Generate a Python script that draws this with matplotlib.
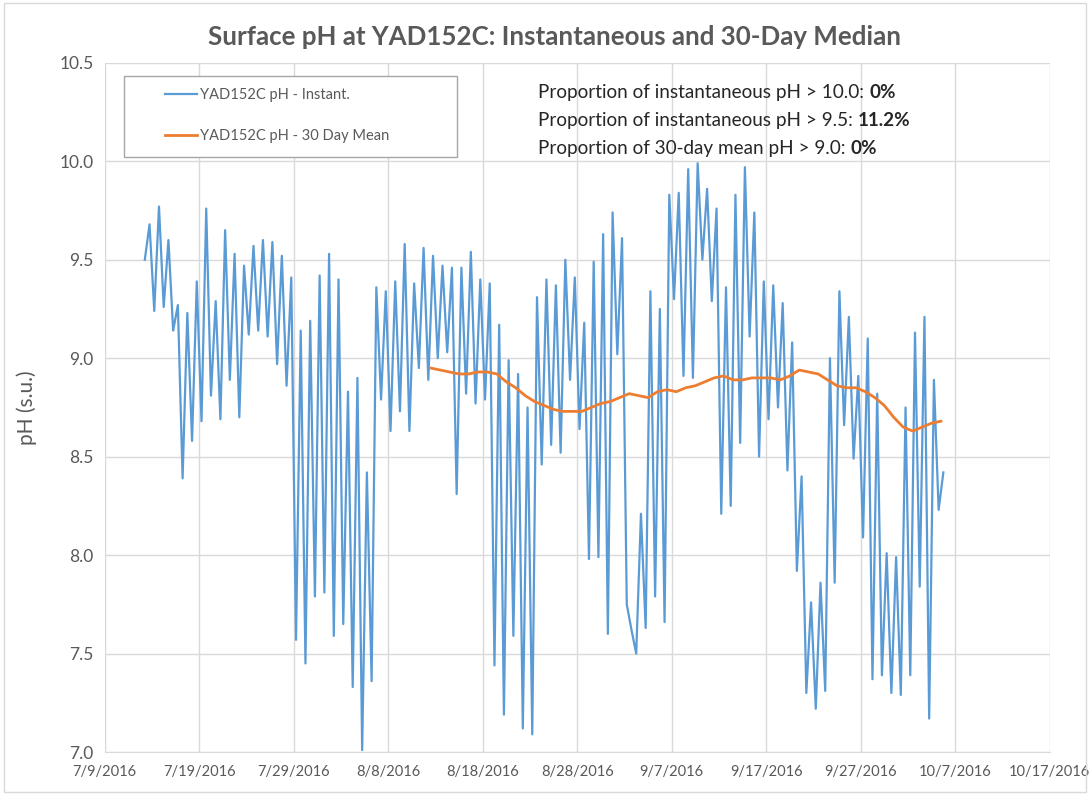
import matplotlib
matplotlib.use("Agg")
import matplotlib.pyplot as plt
import matplotlib.dates as mdates
from matplotlib.ticker import FuncFormatter, MultipleLocator, FixedLocator
from matplotlib.patches import Rectangle
import pandas as pd

# ---------------- data ----------------
inst_start = "2016-07-13 06:00"   # alternating morning low / evening high, 12 h apart
inst_ph = [
    9.50, 9.68,  9.24, 9.77,  9.26, 9.60,  9.14, 9.27,  8.39, 9.23,   # 7/13-7/17
    8.58, 9.39,  8.68, 9.76,  8.81, 9.29,  8.69, 9.65,  8.89, 9.53,   # 7/18-7/22
    8.70, 9.47,  9.12, 9.57,  9.14, 9.60,  9.11, 9.59,  8.97, 9.52,   # 7/23-7/27
    8.86, 9.41,  7.57, 9.14,  7.45, 9.19,  7.79, 9.42,  7.81, 9.53,   # 7/28-8/1
    7.59, 9.40,  7.65, 8.83,  7.33, 8.90,  7.01, 8.42,  7.36, 9.36,   # 8/2-8/6
    8.79, 9.34,  8.63, 9.39,  8.73, 9.58,  8.63, 9.38,  8.95, 9.56,   # 8/7-8/11
    8.89, 9.52,  9.00, 9.47,  9.03, 9.46,  8.31, 9.46,  8.82, 9.54,   # 8/12-8/16
    8.77, 9.40,  8.79, 9.38,  7.44, 9.17,  7.19, 8.99,  7.59, 8.92,   # 8/17-8/21
    7.12, 8.75,  7.09, 9.31,  8.46, 9.40,  8.56, 9.37,  8.52, 9.50,   # 8/22-8/26
    8.89, 9.41,  8.64, 9.18,  7.98, 9.49,  7.99, 9.63,  7.60, 9.74,   # 8/27-8/31
    9.02, 9.61,  7.75, 7.62,  7.50, 8.21,  7.63, 9.34,  7.79, 9.25,   # 9/1-9/5
    7.66, 9.83,  9.30, 9.84,  8.91, 9.96,  8.90, 9.99,  9.50, 9.86,   # 9/6-9/10
    9.29, 9.76,  8.21, 9.36,  8.25, 9.83,  8.57, 9.97,  9.11, 9.74,   # 9/11-9/15
    8.50, 9.39,  8.69, 9.37,  8.75, 9.28,  8.43, 9.08,  7.92, 8.40,   # 9/16-9/20
    7.30, 7.76,  7.22, 7.86,  7.31, 9.00,  7.86, 9.34,  8.66, 9.21,   # 9/21-9/25
    8.49, 8.91,  8.09, 9.10,  7.37, 8.82,  7.39, 8.01,  7.30, 7.99,   # 9/26-9/30
    7.29, 8.75,  7.39, 9.13,  7.84, 9.21,  7.17, 8.89,  8.23, 8.42,   # 10/1-10/5
]

mean_start = "2016-08-12 12:00"   # daily values
mean_ph = [
    8.95, 8.94, 8.93, 8.92, 8.92, 8.93, 8.93, 8.92, 8.88, 8.85,   # 8/12-8/21
    8.81, 8.78, 8.76, 8.74, 8.73, 8.73, 8.73, 8.75, 8.77, 8.78,   # 8/22-8/31
    8.80, 8.82, 8.81, 8.80, 8.83, 8.84, 8.83, 8.85, 8.86, 8.88,   # 9/1-9/10
    8.90, 8.91, 8.89, 8.89, 8.90, 8.90, 8.90, 8.89, 8.91, 8.94,   # 9/11-9/20
    8.93, 8.92, 8.89, 8.86, 8.85, 8.85, 8.83, 8.80, 8.76, 8.70,   # 9/21-9/30
    8.65, 8.63, 8.65, 8.67, 8.68,                                 # 10/1-10/5
]

title = "Surface pH at YAD152C: Instantaneous and 30-Day Median"
ylabel = "pH (s.u.)"
label_inst = "YAD152C pH - Instant."
label_mean = "YAD152C pH - 30 Day Mean"
stat_lines = [
    ("Proportion of instantaneous pH > 10.0: ", "0%"),
    ("Proportion of instantaneous pH > 9.5: ", "11.2%"),
    ("Proportion of 30-day mean pH > 9.0: ", "0%"),
]
x_start, x_end = "2016-07-09", "2016-10-17"

# ---------------- build series ----------------
inst = pd.Series(inst_ph, index=pd.date_range(inst_start, periods=len(inst_ph), freq="12h"))
mean = pd.Series(mean_ph, index=pd.date_range(mean_start, periods=len(mean_ph), freq="D"))

# ---------------- figure ----------------
plt.rcParams["font.family"] = ["Lato", "DejaVu Sans"]
GRAY = "#595959"
GRID = "#d9d9d9"

fig = plt.figure(figsize=(10.9, 7.95), dpi=100)
fig.patches.append(Rectangle((0.004, 0.004), 0.992, 0.992, transform=fig.transFigure,
                             fill=False, edgecolor=GRID, linewidth=1.0))
ax = fig.add_axes([0.096, 0.054, 0.867, 0.867])

ax.plot(inst.index, inst.values, color="#5b9bd5", lw=1.6, label=label_inst, zorder=3)
ax.plot(mean.index, mean.values, color="#ed7d31", lw=2.0, label=label_mean, zorder=4)

ax.set_xlim(pd.Timestamp(x_start), pd.Timestamp(x_end))
ax.set_ylim(7.0, 10.5)
ax.yaxis.set_major_locator(MultipleLocator(0.5))
ax.yaxis.set_major_formatter(FuncFormatter(lambda v, p: f"{v:.1f}"))
ax.xaxis.set_major_locator(FixedLocator(
    mdates.date2num(pd.date_range(x_start, x_end, freq="10D"))))
ax.xaxis.set_major_formatter(FuncFormatter(
    lambda v, p: (lambda d: f"{d.month}/{d.day}/{d.year}")(mdates.num2date(v))))

ax.grid(True, color=GRID, lw=1.0, zorder=0)
ax.set_axisbelow(True)
for s in ["top", "right", "left"]:
    ax.spines[s].set_visible(False)
ax.spines["bottom"].set_color(GRID)
ax.tick_params(axis="both", length=0, colors=GRAY)
ax.tick_params(axis="y", labelsize=12.5, pad=8)
ax.tick_params(axis="x", labelsize=10.5, pad=9)

ax.set_ylabel(ylabel, fontsize=15, color=GRAY, labelpad=16)
fig.text(0.509, 0.953, title, ha="center", va="center", fontsize=18.6,
         fontweight="bold", color=GRAY)

# legend box (frame drawn separately so the entries sit inset as in the reference)
ax.add_patch(Rectangle((0.0205, 0.864), 0.352, 0.117, transform=ax.transAxes,
                       fill=True, facecolor="white", edgecolor="#a6a6a6",
                       linewidth=1.0, zorder=5))
leg = ax.legend(loc="upper left", bbox_to_anchor=(0.064, 0.963),
                frameon=False, fontsize=10.5, labelspacing=1.85, borderpad=0,
                handlelength=2.2, handletextpad=0.2, borderaxespad=0)
leg.set_zorder(6)
for t in leg.get_texts():
    t.set_color(GRAY)

y0 = 0.957
for i, (plain, bold) in enumerate(stat_lines):
    t = ax.text(0.459, y0 - i * 0.0405, plain, transform=ax.transAxes, fontsize=13.6,
                color="#262626", va="center", ha="left")
    ax.annotate(bold, xy=(1, 0.5), xycoords=t, va="center", ha="left",
                fontsize=13.6, fontweight="bold", color="#262626")

fig.savefig("out.png", dpi=100)
